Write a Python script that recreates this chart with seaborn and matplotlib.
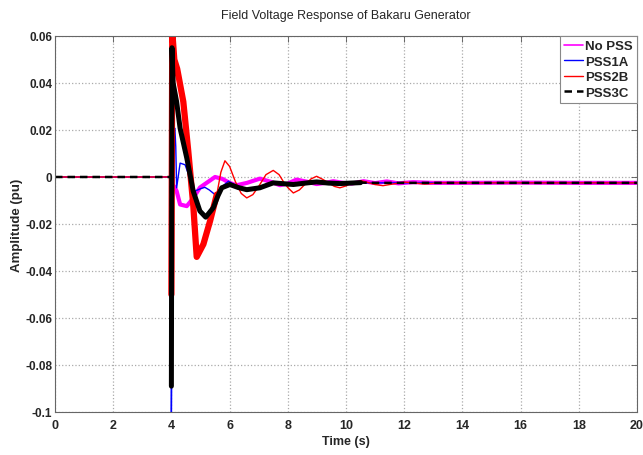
import matplotlib
matplotlib.use("Agg")
import matplotlib.pyplot as plt
import seaborn as sns
import pandas as pd
import numpy as np

# ---- data ----
t_nopss = [0, 3.99, 4.02, 4.1, 4.18, 4.3, 4.53, 4.75, 4.98, 5.21, 5.5, 5.75, 6.0, 6.24,
           6.6, 7.04, 7.4, 7.73, 8.0, 8.3, 8.65, 8.99, 9.3, 9.56, 9.9, 10.2, 10.6, 11.0,
           11.4, 11.8, 12.3, 13, 14, 16, 18, 20]
v_nopss = [0, 0, 0.0, -0.004, -0.006, -0.0117, -0.0124, -0.009, -0.0045, -0.0025, 0.0,
           -0.0008, -0.0025, -0.0035, -0.0025, -0.0007, -0.002, -0.0035, -0.0028, -0.0011,
           -0.002, -0.003, -0.0025, -0.0018, -0.0025, -0.0028, -0.0018, -0.0026, -0.0019,
           -0.0027, -0.0022, -0.0025, -0.0025, -0.0024, -0.0025, -0.0025]

t_pss1a = [0, 3.99, 4.0, 4.03, 4.08, 4.12, 4.15, 4.18, 4.3, 4.47, 4.65, 4.81, 5.0, 5.15,
           5.3, 5.5, 5.75, 5.96, 6.2, 6.5, 7.0, 7.5, 8.0, 8.5, 9.0, 9.5, 10, 11, 12, 14,
           16, 18, 20]
v_pss1a = [0, 0, -0.1, -0.05, 0.02, 0.0207, 0.013, -0.0046, 0.0059, 0.0052, -0.001,
           -0.006, -0.005, -0.0044, -0.0055, -0.0075, -0.004, -0.0018, -0.0035, -0.005,
           -0.0045, -0.0028, -0.0032, -0.0028, -0.0022, -0.0027, -0.0025, -0.0025,
           -0.0025, -0.0025, -0.0025, -0.0025, -0.0025]

t_pss2b = [0, 3.99, 4.0, 4.03, 4.1, 4.2, 4.41, 4.58, 4.75, 4.87, 5.1, 5.33, 5.56, 5.7,
           5.84, 6.0, 6.2, 6.4, 6.59, 6.8, 7.0, 7.25, 7.5, 7.7, 7.85, 8.0, 8.19, 8.4,
           8.6, 8.8, 8.99, 9.2, 9.4, 9.6, 9.79, 10.0, 10.2, 10.54, 10.8, 11.0, 11.27,
           11.6, 12.0, 12.4, 12.7, 13.2, 14, 16, 18, 20]
v_pss2b = [0, 0, -0.05, 0.062, 0.05, 0.046, 0.032, 0.011, -0.0117, -0.034, -0.0286,
           -0.0187, -0.0075, 0.002, 0.0069, 0.0045, -0.002, -0.007, -0.0089, -0.0075,
           -0.004, 0.001, 0.0028, 0.001, -0.002, -0.0045, -0.0068, -0.0055, -0.003,
           -0.0008, 0.0003, -0.001, -0.0025, -0.004, -0.0046, -0.0038, -0.0025, -0.0016,
           -0.0025, -0.0032, -0.0037, -0.003, -0.0022, -0.0026, -0.003, -0.0025,
           -0.0025, -0.0025, -0.0025, -0.0025]

t_pss3c = [0, 3.99, 4.0, 4.02, 4.06, 4.12, 4.18, 4.3, 4.53, 4.75, 4.98, 5.18, 5.44, 5.6,
           5.73, 6.01, 6.3, 6.59, 7.04, 7.5, 8.19, 8.6, 8.99, 9.4, 9.79, 10.5, 11, 12,
           14, 16, 18, 20]
v_pss3c = [0, 0, -0.089, 0.055, 0.04, 0.036, 0.032, 0.0207, 0.008, -0.006, -0.0145,
           -0.0171, -0.0131, -0.008, -0.0046, -0.0032, -0.0045, -0.0054, -0.0046,
           -0.0025, -0.0032, -0.0026, -0.0021, -0.0026, -0.0028, -0.0024, -0.0025,
           -0.0025, -0.0025, -0.0025, -0.0025, -0.0025]

labels = ["No PSS", "PSS1A", "PSS2B", "PSS3C"]
x_ticks = [0, 2, 4, 6, 8, 10, 12, 14, 16, 18, 20]
y_ticks = [-0.1, -0.08, -0.06, -0.04, -0.02, 0, 0.02, 0.04, 0.06]
y_tick_labels = ["-0.1", "-0.08", "-0.06", "-0.04", "-0.02", "0", "0.02", "0.04", "0.06"]

title = "Field Voltage Response of Bakaru Generator"
xlabel = "Time (s)"
ylabel = "Amplitude (pu)"

# ---- plotting ----
sns.set_style("white")
plt.rcParams["font.family"] = ["Liberation Sans", "DejaVu Sans"]

fig = plt.figure(figsize=(6.43, 4.56), dpi=100)
ax = fig.add_axes([0.0855, 0.0943, 0.9052, 0.8246])

def frame(t, v):
    return pd.DataFrame({"t": t, "v": v})

d_no = frame(t_nopss, v_nopss)
d_1a = frame(t_pss1a, v_pss1a)
d_2b = frame(t_pss2b, v_pss2b)
d_3c = frame(t_pss3c, v_pss3c)

kw = dict(x="t", y="v", sort=False, estimator=None, ax=ax)

sns.lineplot(data=d_no, color="#FF00FF", linewidth=1.2, label=labels[0], **kw)
sns.lineplot(data=d_no[d_no.t >= 4.05], color="#FF00FF", linewidth=3.0,
             legend=False, **kw)
sns.lineplot(data=d_1a, color="#0000FF", linewidth=1.0, label=labels[1], **kw)
sns.lineplot(data=d_2b, color="#FF0000", linewidth=1.0, label=labels[2], **kw)
sns.lineplot(data=d_2b[(d_2b.t >= 4.0) & (d_2b.t <= 5.6)], color="#FF0000",
             linewidth=4.5, legend=False, **kw)
sns.lineplot(data=d_3c[(d_3c.t >= 4.0) & (d_3c.t <= 10.5)], color="black",
             linewidth=3.6, legend=False, **kw)
sns.lineplot(data=d_3c, color="black", linewidth=1.8, linestyle=(0, (3, 2)),
             label=labels[3], **kw)

ax.set_xlim(0, 20)
ax.set_ylim(-0.1, 0.06)
ax.set_xticks(x_ticks)
ax.set_xticklabels([str(x) for x in x_ticks], fontsize=9, fontweight="bold")
ax.set_yticks(y_ticks)
ax.set_yticklabels(y_tick_labels, fontsize=8.5, fontweight="bold")
ax.tick_params(direction="in", length=4, width=0.6, color="#555555",
               top=True, right=True)
ax.tick_params(axis="x", pad=5)
ax.tick_params(axis="y", pad=2)
ax.grid(True, linestyle=":", color="#AAAAAA", linewidth=0.9)
for s in ax.spines.values():
    s.set_color("#666666")
    s.set_linewidth(0.8)

ax.set_title(title, fontsize=9, pad=13)
ax.set_xlabel(xlabel, fontsize=9, fontweight="bold", labelpad=3)
ax.set_ylabel(ylabel, fontsize=9.5, fontweight="bold")
ax.yaxis.set_label_coords(-0.055, 0.5)

leg = ax.legend(loc="upper right", bbox_to_anchor=(1.0, 1.0), borderaxespad=0,
                fancybox=False, framealpha=1, edgecolor="#888888",
                prop={"size": 9.5, "weight": "bold"}, handlelength=1.4,
                handletextpad=0.2, labelspacing=0.25, borderpad=0.3)
leg.get_frame().set_linewidth(0.8)

fig.savefig("out.png", dpi=100, facecolor="white")
